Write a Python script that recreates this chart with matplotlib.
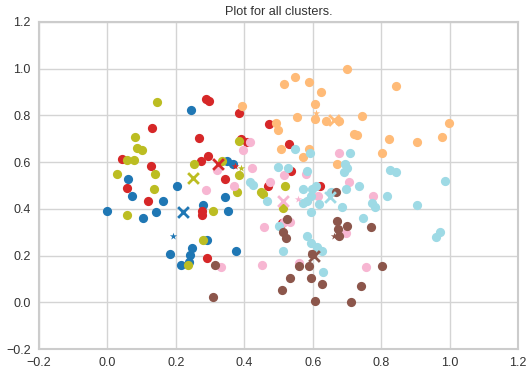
import matplotlib
matplotlib.use("Agg")
import matplotlib.pyplot as plt

plt.rcParams['font.family'] = ['Liberation Sans', 'DejaVu Sans']

cluster_colors = ["#1f77b4", "#d62728", "#bcbd22", "#ffbb78", "#f7b6d2", "#9edae5", "#8c564b"]

blue_x = [0.245, 0.350, 0.368, 0.061, 0.204, 0.073, 0.161, 0.345, 0.000, 0.105, 0.143, 0.280, 0.353, 0.292, 0.248, 0.184, 0.242, 0.377, 0.239, 0.216]
blue_y = [0.821, 0.603, 0.590, 0.526, 0.496, 0.453, 0.432, 0.449, 0.389, 0.363, 0.385, 0.415, 0.389, 0.265, 0.231, 0.209, 0.201, 0.218, 0.171, 0.158]

red_x = [0.289, 0.298, 0.385, 0.131, 0.473, 0.269, 0.391, 0.409, 0.044, 0.128, 0.295, 0.272, 0.345, 0.058, 0.120, 0.277, 0.277, 0.292, 0.531, 0.537, 0.470, 0.622, 0.511]
red_y = [0.868, 0.863, 0.812, 0.748, 0.761, 0.705, 0.701, 0.684, 0.615, 0.585, 0.628, 0.603, 0.526, 0.491, 0.432, 0.389, 0.372, 0.188, 0.679, 0.564, 0.496, 0.500, 0.338]

olive_x = [0.146, 0.082, 0.385, 0.085, 0.102, 0.058, 0.079, 0.336, 0.254, 0.029, 0.140, 0.385, 0.137, 0.380, 0.450, 0.455, 0.520, 0.058, 0.309, 0.280, 0.234, 0.514]
olive_y = [0.859, 0.709, 0.692, 0.662, 0.650, 0.607, 0.607, 0.603, 0.590, 0.551, 0.551, 0.547, 0.487, 0.474, 0.474, 0.462, 0.496, 0.372, 0.393, 0.265, 0.162, 0.402]

peach_x = [0.394, 0.701, 0.549, 0.517, 0.590, 0.844, 0.625, 0.607, 0.555, 0.607, 0.639, 0.677, 0.745, 0.999, 0.493, 0.499, 0.721, 0.730, 0.823, 0.978, 0.905, 0.508, 0.590, 0.572, 0.803, 0.672]
peach_y = [0.842, 1.000, 0.966, 0.936, 0.944, 0.927, 0.902, 0.850, 0.791, 0.786, 0.774, 0.778, 0.799, 0.769, 0.769, 0.739, 0.722, 0.718, 0.701, 0.709, 0.684, 0.658, 0.658, 0.620, 0.637, 0.590]

pink_x = [0.418, 0.397, 0.321, 0.423, 0.289, 0.371, 0.476, 0.517, 0.581, 0.677, 0.707, 0.616, 0.777, 0.458, 0.517, 0.534, 0.698, 0.453, 0.333, 0.561, 0.756]
pink_y = [0.688, 0.650, 0.568, 0.577, 0.479, 0.496, 0.513, 0.547, 0.551, 0.641, 0.513, 0.453, 0.457, 0.321, 0.342, 0.342, 0.295, 0.158, 0.150, 0.167, 0.150]

cyan_x = [0.549, 0.593, 0.709, 0.695, 0.701, 0.692, 0.826, 0.844, 0.987, 0.499, 0.528, 0.584, 0.418, 0.426, 0.610, 0.572, 0.736, 0.599, 0.654, 0.698, 0.818, 0.467, 0.572, 0.584, 0.596, 0.619, 0.686, 0.774, 0.782, 0.905, 0.596, 0.747, 0.502, 0.584, 0.596, 0.972, 0.961, 0.514, 0.613, 0.628, 0.631]
cyan_y = [0.658, 0.641, 0.641, 0.590, 0.577, 0.556, 0.568, 0.556, 0.521, 0.581, 0.573, 0.564, 0.517, 0.504, 0.500, 0.483, 0.496, 0.483, 0.474, 0.483, 0.453, 0.432, 0.427, 0.432, 0.453, 0.419, 0.410, 0.427, 0.406, 0.415, 0.385, 0.363, 0.325, 0.282, 0.256, 0.303, 0.278, 0.218, 0.235, 0.218, 0.132]

brown_x = [0.526, 0.514, 0.523, 0.672, 0.701, 0.674, 0.771, 0.677, 0.669, 0.599, 0.561, 0.590, 0.803, 0.534, 0.596, 0.628, 0.511, 0.742, 0.607, 0.712, 0.315, 0.309]
brown_y = [0.355, 0.303, 0.274, 0.346, 0.325, 0.316, 0.321, 0.282, 0.474, 0.209, 0.154, 0.154, 0.154, 0.103, 0.103, 0.077, 0.051, 0.068, 0.004, 0.000, 0.158, 0.021]

# cluster centres (x markers) and representative points (star markers),
# in the same order as cluster_colors
centre_x = [0.222, 0.324, 0.251, 0.663, 0.514, 0.651, 0.604]
centre_y = [0.385, 0.594, 0.530, 0.782, 0.432, 0.449, 0.197]
star_x = [0.193, 0.374, 0.391, 0.610, 0.558, 0.590, 0.663]
star_y = [0.286, 0.585, 0.573, 0.812, 0.444, 0.440, 0.286]

points_x = [blue_x, red_x, olive_x, peach_x, pink_x, cyan_x, brown_x]
points_y = [blue_y, red_y, olive_y, peach_y, pink_y, cyan_y, brown_y]

fig = plt.figure(figsize=(5.27, 3.71), dpi=100)
ax = fig.add_axes([0.074, 0.059, 0.909, 0.882])
ax.set_facecolor("white")
for i, col in enumerate(cluster_colors):
    ax.scatter(points_x[i], points_y[i], s=44, color=col, linewidths=0, zorder=3)
    ax.scatter([centre_x[i]], [centre_y[i]], s=60, marker="x", color=col, linewidths=2, zorder=4)
    ax.scatter([star_x[i]], [star_y[i]], s=30, marker="*", color=col, linewidths=0, zorder=4)

ticks = [-0.2, 0.0, 0.2, 0.4, 0.6, 0.8, 1.0, 1.2]
tick_labels = ["\u22120.2", "0.0", "0.2", "0.4", "0.6", "0.8", "1.0", "1.2"]
ax.set_xlim(-0.2, 1.2)
ax.set_ylim(-0.2, 1.2)
ax.set_xticks(ticks)
ax.set_yticks(ticks)
ax.set_xticklabels(tick_labels)
ax.set_yticklabels(tick_labels)
ax.grid(True, color="#d4d4d4", linewidth=1.0, zorder=0)
ax.set_axisbelow(True)
for sp in ax.spines.values():
    sp.set_color("#cccccc")
    sp.set_linewidth(1.5)
ax.tick_params(length=0, labelsize=9, labelcolor="#333333", pad=6)
ax.set_title("Plot for all clusters.", fontsize=9.2, color="#333333", pad=5)

fig.savefig("out.png", dpi=100)
